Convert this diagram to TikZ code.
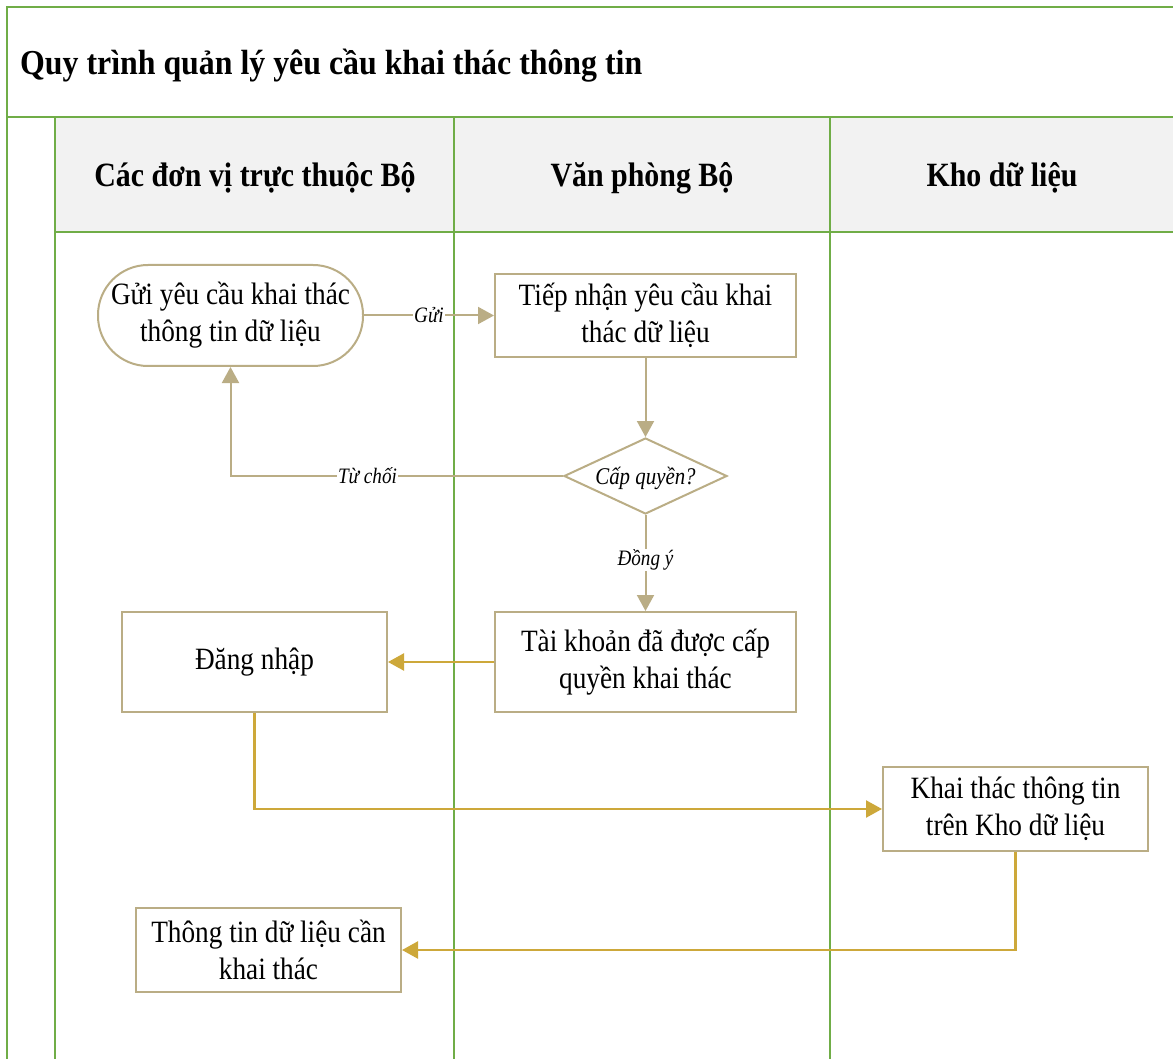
\documentclass[tikz,border=0pt]{standalone}
\usepackage{fontspec}
\setmainfont{Liberation Serif}
\newfontfamily\nodefont[FakeStretch=0.88]{Liberation Serif}
\newfontfamily\headfont[FakeStretch=0.88]{Liberation Serif}
\newfontfamily\titlefont[FakeStretch=0.91]{Liberation Serif}
\newfontfamily\lblfont[FakeStretch=0.87]{Liberation Serif}
\usetikzlibrary{shapes.geometric,arrows.meta}
\definecolor{lanegreen}{HTML}{70AD47}
\definecolor{headgray}{HTML}{F2F2F2}
\definecolor{tanc}{HTML}{BAAD85}
\definecolor{goldc}{HTML}{CDA83A}
\tikzset{
  lane/.style={draw=lanegreen, line width=1.6pt},
  box/.style={draw=tanc, line width=2pt, fill=white, align=center, inner sep=0pt,
    font=\nodefont\fontsize{31}{37}\selectfont},
  head/.style={font=\headfont\bfseries\fontsize{34}{40}\selectfont, anchor=base, inner sep=0pt},
  tanarrow/.style={draw=tanc, line width=2pt, -{Triangle[length=16pt,width=17pt]}},
  goldarrow/.style={draw=goldc, line width=2.4pt, -{Triangle[length=16pt,width=17pt]}},
  elabel/.style={font=\lblfont\itshape\fontsize{22}{26}\selectfont, fill=white, inner sep=1pt, text=black}
}
\begin{document}
\begin{tikzpicture}[x=1pt,y=-1pt]
\useasboundingbox (0,0) rectangle (1173,1059);
% header background
\fill[headgray] (55,117) rectangle (1173,232);
% lanes
\draw[lane] (1173,7) -- (7,7) -- (7,1059);
\draw[lane] (7,117) -- (1173,117);
\draw[lane] (55,232) -- (1173,232);
\draw[lane, line width=2pt] (55,117) -- (55,1059);
\draw[lane] (454,117) -- (454,1059);
\draw[lane] (830,117) -- (830,1059);
% title and headers
\node[font=\titlefont\bfseries\fontsize{35}{40}\selectfont, anchor=base west, inner sep=0pt] (title) at (20,75) {Quy trình quản lý yêu cầu khai thác thông tin};
\node[head] (h1) at (255,187) {Các đơn vị trực thuộc Bộ};
\node[head] (h2) at (642,187) {Văn phòng Bộ};
\node[head] (h3) at (1002,187) {Kho dữ liệu};
% nodes
\node[box, rounded corners=50pt, minimum width=265pt, minimum height=101pt] (n1) at (230.5,315.5) {Gửi yêu cầu khai thác\\thông tin dữ liệu};
\node[box, minimum width=301pt, minimum height=83pt] (n2) at (645.5,315.5) {Tiếp nhận yêu cầu khai\\thác dữ liệu};
\node[diamond, draw=tanc, line width=2pt, fill=white, inner sep=0pt, minimum width=163pt, minimum height=76pt] (dia) at (645.5,476)
  {\smash{\raisebox{-8pt}{\makebox[0pt]{\lblfont\itshape\fontsize{24}{28}\selectfont Cấp quyền?}}}};
\node[box, minimum width=301pt, minimum height=100pt] (n3) at (645.5,662) {Tài khoản đã được cấp\\quyền khai thác};
\node[box, minimum width=265pt, minimum height=100pt] (n4) at (254.5,662) {Đăng nhập};
\node[box, minimum width=265pt, minimum height=84pt] (n5) at (1015.5,809) {Khai thác thông tin\\trên Kho dữ liệu};
\node[box, minimum width=265pt, minimum height=84pt] (n6) at (268.5,950) {Thông tin dữ liệu cần\\khai thác};
% connectors
\draw[tanarrow] (n1.east) -- node[elabel] {Gửi} (n2.west);
\draw[tanarrow] (n2.south) -- (dia.north);
\draw[tanarrow] (dia.west) -| node[elabel, pos=0.294] {Từ chối} (n1.south);
\draw[tanarrow] (dia.south) -- node[elabel, yshift=3pt] {Đồng ý} (n3.north);
\draw[goldarrow] (n3.west) -- (n4.east);
\draw[goldarrow] (n4.south) |- (n5.west);
\draw[goldarrow] (n5.south) |- (n6.east);
\end{tikzpicture}
\end{document}
